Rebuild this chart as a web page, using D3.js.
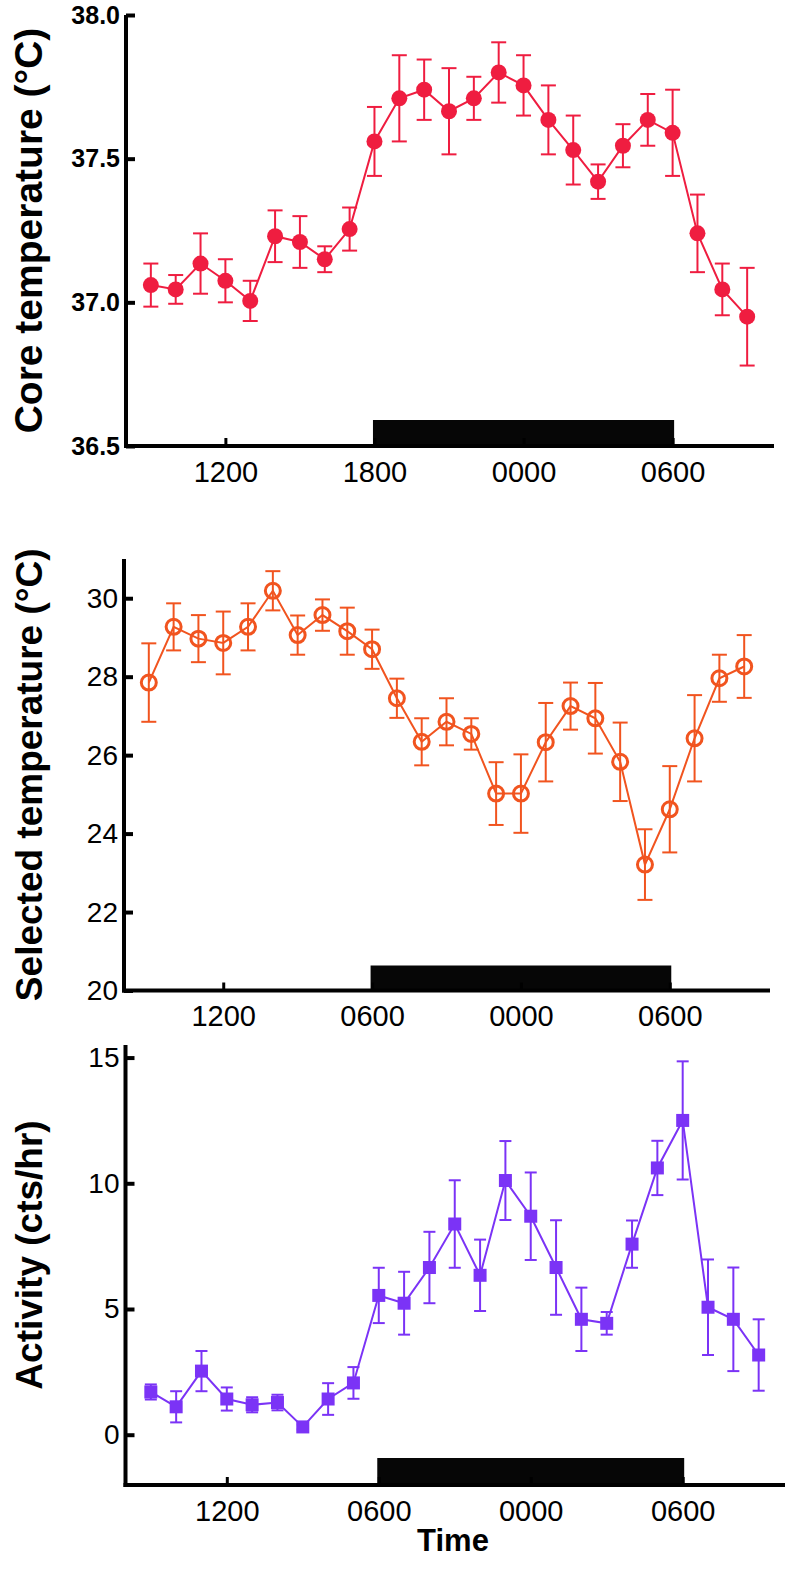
<!DOCTYPE html>
<html>
<head>
<meta charset="utf-8">
<script src="https://cdn.jsdelivr.net/npm/d3@7"></script>
<style>
  body { margin: 0; background: #fff; }
  svg { display: block; font-family: "Liberation Sans", Arial, sans-serif; }
</style>
</head>
<body>
<div id="chart"></div>
<script>
// hours since midnight of day 1 (0900 -> 0900 next day)
const hours = [9, 10, 11, 12, 13, 14, 15, 16, 17, 18, 19, 20, 21, 22, 23, 24, 25, 26, 27, 28, 29, 30, 31, 32, 33];
const darkPeriod = [18, 30];

const coreTemp = [37.06, 37.045, 37.135, 37.075, 37.005, 37.23, 37.21, 37.15, 37.255, 37.56, 37.71, 37.74, 37.665,
  37.71, 37.80, 37.755, 37.635, 37.53, 37.42, 37.545, 37.635, 37.59, 37.24, 37.045, 36.95];
const coreErr = [0.075, 0.05, 0.105, 0.075, 0.07, 0.09, 0.09, 0.045, 0.075, 0.12, 0.15, 0.105, 0.15,
  0.075, 0.105, 0.105, 0.12, 0.12, 0.06, 0.075, 0.09, 0.15, 0.135, 0.09, 0.17];

const selTemp = [27.85, 29.27, 28.97, 28.86, 29.27, 30.19, 29.06, 29.57, 29.16, 28.70, 27.45, 26.34, 26.85,
  26.54, 25.02, 25.02, 26.33, 27.25, 26.94, 25.83, 23.21, 24.62, 26.43, 27.96, 28.26];
const selErr = [1.0, 0.6, 0.6, 0.8, 0.6, 0.5, 0.5, 0.4, 0.6, 0.5, 0.5, 0.6, 0.6,
  0.4, 0.8, 1.0, 1.0, 0.6, 0.9, 1.0, 0.9, 1.1, 1.1, 0.6, 0.8];

const activity = [1.70, 1.11, 2.53, 1.42, 1.19, 1.28, 0.31, 1.42, 2.06, 5.54, 5.23, 6.65, 8.38,
  6.34, 10.11, 8.69, 6.65, 4.59, 4.43, 7.58, 10.61, 12.5, 5.07, 4.59, 3.17];
const actErr = [0.3, 0.62, 0.8, 0.46, 0.3, 0.31, 0.1, 0.63, 0.63, 1.1, 1.25, 1.42, 1.74,
  1.42, 1.57, 1.74, 1.88, 1.26, 0.45, 0.94, 1.08, 2.35, 1.9, 2.06, 1.42];

const xTickHours = [12, 18, 24, 30];
const topXLabels = ["1200", "1800", "0000", "0600"];
const lowXLabels = ["1200", "0600", "0000", "0600"];   // as printed in the figure

const W = 794, H = 1581;
const svg = d3.select("#chart").append("svg").attr("width", W).attr("height", H);

// one panel = one small chart
function panel(opt) {
  const x = d3.scaleLinear().domain([8, 34]).range([opt.left, opt.right]);
  const y = d3.scaleLinear().domain(opt.yDomain).range([opt.bottom, opt.top]);
  const g = svg.append("g");
  const rows = hours.map((h, i) => ({ h: h, v: opt.values[i], e: opt.errors[i] }));

  // dark phase bar
  g.append("rect")
    .attr("x", x(darkPeriod[0]) - 1.5)
    .attr("width", x(darkPeriod[1]) - x(darkPeriod[0]) + 3)
    .attr("y", opt.bottom - opt.barH)
    .attr("height", opt.barH)
    .attr("fill", "#060606");

  // x axis
  const xAxis = g.append("g")
    .attr("transform", `translate(0, ${opt.bottom})`)
    .call(d3.axisBottom(x).tickValues(xTickHours)
      .tickFormat((d, i) => opt.xLabels[i])
      .tickSizeInner(-8).tickSizeOuter(0).tickPadding(15));
  xAxis.select(".domain").attr("d", `M${opt.left - 2},0H${opt.axisEnd}`)
    .attr("stroke", "#000").attr("stroke-width", 4);
  xAxis.selectAll(".tick line").attr("stroke", "#000").attr("stroke-width", 3);
  xAxis.selectAll("text").attr("font-size", 29).attr("fill", "#000");

  // y axis
  const yAxis = g.append("g")
    .attr("transform", `translate(${opt.left}, 0)`)
    .call(d3.axisLeft(y).tickValues(opt.yTicks).tickFormat(opt.yFormat)
      .tickSizeInner(-9).tickSizeOuter(0).tickPadding(6));
  yAxis.select(".domain").attr("d", `M0,${opt.top}V${opt.bottom + 2}`)
    .attr("stroke", "#000").attr("stroke-width", 4);
  yAxis.selectAll(".tick line").attr("stroke", "#000").attr("stroke-width", 4);
  yAxis.selectAll("text")
    .attr("font-size", opt.yFont)
    .attr("font-weight", opt.yBold ? "bold" : "normal")
    .attr("fill", "#000");

  // y title
  g.append("text")
    .attr("transform", `translate(42, ${(opt.top + opt.bottom) / 2 + opt.titleShift}) rotate(-90)`)
    .attr("text-anchor", "middle")
    .attr("font-size", opt.titleSize)
    .attr("font-weight", "bold")
    .text(opt.title);

  // error bars
  const eb = g.append("g").attr("stroke", opt.color).attr("stroke-width", 2).attr("fill", "none");
  rows.forEach(d => {
    const cx = x(d.h);
    eb.append("line").attr("x1", cx).attr("x2", cx).attr("y1", y(d.v + d.e)).attr("y2", y(d.v - d.e));
    eb.append("line").attr("x1", cx - opt.cap).attr("x2", cx + opt.cap).attr("y1", y(d.v + d.e)).attr("y2", y(d.v + d.e));
    eb.append("line").attr("x1", cx - opt.cap).attr("x2", cx + opt.cap).attr("y1", y(d.v - d.e)).attr("y2", y(d.v - d.e));
  });

  // line
  g.append("path")
    .datum(rows)
    .attr("fill", "none")
    .attr("stroke", opt.color)
    .attr("stroke-width", 2)
    .attr("d", d3.line().x(d => x(d.h)).y(d => y(d.v)));

  // markers
  if (opt.marker === "square") {
    g.selectAll(".mk").data(rows).join("rect")
      .attr("x", d => x(d.h) - 6.5).attr("y", d => y(d.v) - 6.5)
      .attr("width", 13).attr("height", 13)
      .attr("fill", opt.color);
  } else {
    g.selectAll(".mk").data(rows).join("circle")
      .attr("cx", d => x(d.h)).attr("cy", d => y(d.v))
      .attr("r", opt.marker === "open" ? 7.5 : 8)
      .attr("fill", opt.marker === "open" ? "none" : opt.color)
      .attr("stroke", opt.marker === "open" ? opt.color : "none")
      .attr("stroke-width", 3);
  }
}

panel({
  values: coreTemp, errors: coreErr, color: "#ef1d40", marker: "filled",
  yDomain: [36.5, 38], yTicks: [36.5, 37, 37.5, 38], yFormat: d3.format(".1f"), yFont: 25, yBold: true,
  left: 126, right: 772, axisEnd: 774, top: 15, bottom: 446, barH: 26, cap: 7.5,
  xLabels: topXLabels, title: "Core temperature (°C)", titleSize: 39, titleShift: 0
});

panel({
  values: selTemp, errors: selErr, color: "#f1541f", marker: "open",
  yDomain: [20, 31], yTicks: [20, 22, 24, 26, 28, 30], yFormat: d3.format("d"), yFont: 28, yBold: false,
  left: 124, right: 769, axisEnd: 770, top: 559, bottom: 990.5, barH: 25, cap: 7.5,
  xLabels: lowXLabels, title: "Selected temperature (°C)", titleSize: 37, titleShift: 0
});

panel({
  values: activity, errors: actErr, color: "#7b33f6", marker: "square",
  yDomain: [-2, 15.5], yTicks: [0, 5, 10, 15], yFormat: d3.format("d"), yFont: 28, yBold: false,
  left: 125.5, right: 784, axisEnd: 785, top: 1045, bottom: 1485, barH: 27, cap: 6,
  xLabels: lowXLabels, title: "Activity (cts/hr)", titleSize: 37, titleShift: -10
});

// x title
svg.append("text")
  .attr("x", 453).attr("y", 1551)
  .attr("text-anchor", "middle")
  .attr("font-size", 31)
  .attr("font-weight", "bold")
  .text("Time");
</script>
</body>
</html>
